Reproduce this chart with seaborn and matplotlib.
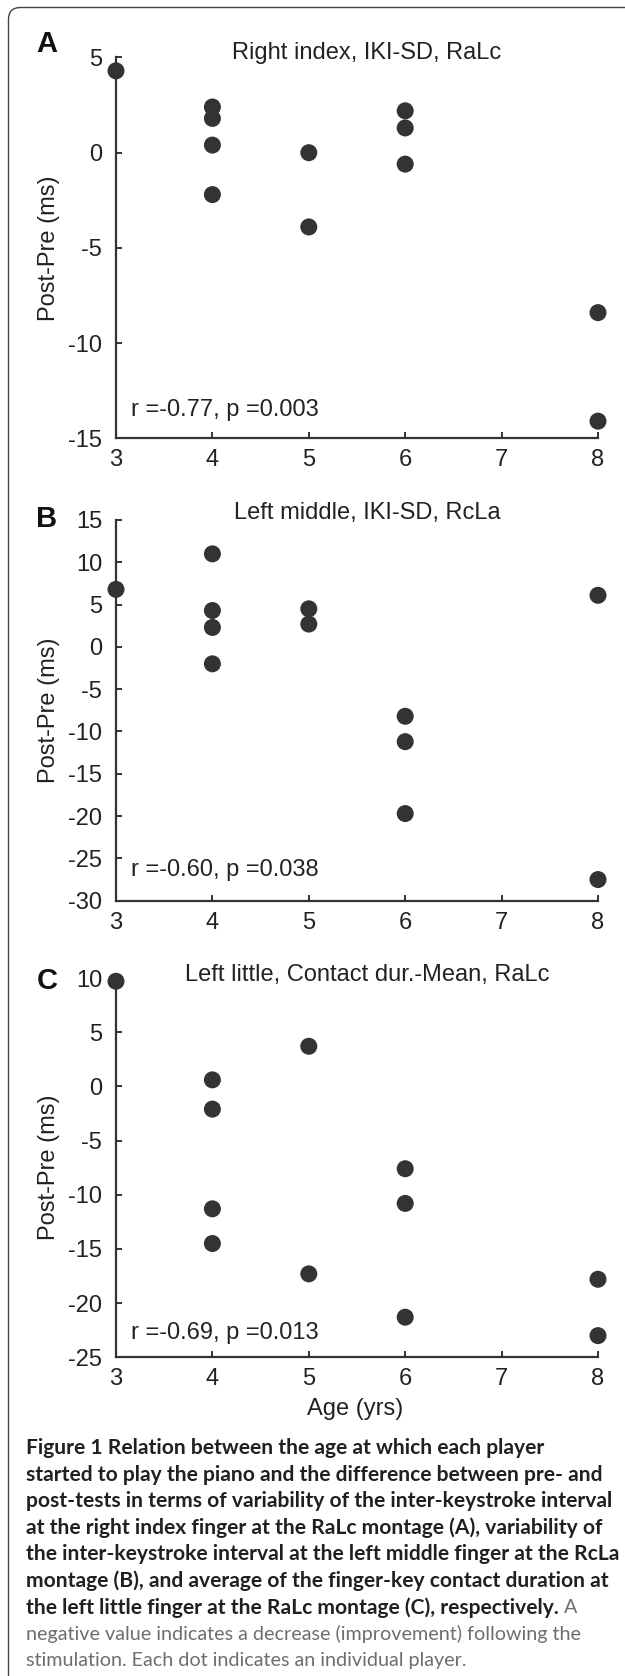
import matplotlib
matplotlib.use("Agg")
import numpy as np
import pandas as pd
import seaborn as sns
import matplotlib.pyplot as plt
from matplotlib.patches import FancyBboxPatch

sns.set_style("ticks")
plt.rcParams['font.family'] = ['Liberation Sans', 'DejaVu Sans']
plt.rcParams['axes.unicode_minus'] = False

# ---- data (age started piano vs post-pre difference, ms)
age_a = [3, 4, 4, 4, 4, 5, 5, 6, 6, 6, 8, 8]
diff_a = [4.3, 2.4, 1.8, 0.4, -2.2, 0.0, -3.9, 2.2, 1.3, -0.6, -8.4, -14.1]

age_b = [3, 4, 4, 4, 4, 5, 5, 6, 6, 6, 8, 8]
diff_b = [6.8, 11.0, 4.3, 2.3, -2.0, 4.5, 2.7, -8.2, -11.2, -19.7, 6.1, -27.5]

age_c = [3, 4, 4, 4, 4, 5, 5, 6, 6, 6, 8, 8]
diff_c = [9.7, 0.6, -2.1, -11.3, -14.5, 3.7, -17.3, -7.6, -10.8, -21.3, -17.8, -23.0]

letters = ["A", "B", "C"]
titles = ["Right index, IKI-SD, RaLc",
          "Left middle, IKI-SD, RcLa",
          "Left little, Contact dur.-Mean, RaLc"]
stats = ["r =-0.77, p =0.003", "r =-0.60, p =0.038", "r =-0.69, p =0.013"]
ylims = [(-15, 5), (-30, 15), (-25, 10)]
xticks = [3, 4, 5, 6, 7, 8]

caption_bold = [
    "Figure 1 Relation between the age at which each player",
    "started to play the piano and the difference between pre- and",
    "post-tests in terms of variability of the inter-keystroke interval",
    "at the right index finger at the RaLc montage (A), variability of",
    "the inter-keystroke interval at the left middle finger at the RcLa",
    "montage (B), and average of the finger-key contact duration at",
    "the left little finger at the RaLc montage (C), respectively.",
]
caption_tail = "A"
caption_plain = [
    "negative value indicates a decrease (improvement) following the",
    "stimulation. Each dot indicates an individual player.",
]

W, H = 625, 1676
fig = plt.figure(figsize=(W / 100, H / 100), dpi=100)
fig.patch.set_facecolor("white")

dark = "#333333"
panel_px = [(57.5, 438.3), (520, 900.7), (978, 1357.3)]
title_y = [52.7, 513.3, 975]
stat_y = [410, 870, 1333]
data = [(age_a, diff_a), (age_b, diff_b), (age_c, diff_c)]

def fx(px):
    return px / W

def fy(px):
    return 1 - px / H

for i in range(3):
    top, bot = panel_px[i]
    ax = fig.add_axes([fx(116), fy(bot), (598 - 116) / W, (bot - top) / H])
    df = pd.DataFrame({"age": data[i][0], "diff": data[i][1]})
    sns.scatterplot(data=df, x="age", y="diff", ax=ax, s=150, color=dark,
                    edgecolor="none", linewidth=0, clip_on=False, zorder=3)
    lo, hi = ylims[i]
    ax.set_xlim(3, 8)
    ax.set_ylim(lo, hi)
    ax.set_xticks(xticks)
    ax.set_yticks(np.arange(lo, hi + 1, 5))
    ax.set_xlabel("")
    ax.set_ylabel("Post-Pre (ms)", fontsize=17, color="#222222")
    ax.yaxis.set_label_coords((60 - 116) / 482, 0.5)
    sns.despine(ax=ax)
    for sp in ["left", "bottom"]:
        ax.spines[sp].set_linewidth(1.6)
        ax.spines[sp].set_color(dark)
    ax.tick_params(direction="in", length=4, width=1.4, color=dark,
                   labelsize=17, labelcolor="#222222")
    ax.tick_params(axis="y", pad=10)
    ax.tick_params(axis="x", pad=8)
    ax.text(0.031, (bot - stat_y[i]) / (bot - top), stats[i],
            transform=ax.transAxes, fontsize=17, color="#222222",
            ha="left", va="center")
    fig.text(fx(367), fy(title_y[i]), titles[i], fontsize=17,
             color="#222222", ha="center", va="center")
    fig.text(fx(47), fy(title_y[i] - 9 if i == 0 else title_y[i] + 6),
             letters[i], fontsize=21, fontweight="bold", color="#111111",
             ha="center", va="center")

fig.text(fx(355), fy(1409), "Age (yrs)", fontsize=17, color="#222222",
         ha="center", va="center")

# ---- caption, sized to the widths in the original
fig.canvas.draw()
rend = fig.canvas.get_renderer()
cap_font = ["Lato", "DejaVu Sans"]
probe = fig.text(0, 0, caption_bold[1], fontsize=10, fontweight="bold", family=cap_font)
bold_size = 10 * 578 / probe.get_window_extent(rend).width
probe.remove()
probe = fig.text(0, 0, caption_plain[0], fontsize=10, family=cap_font)
plain_size = 10 * 555 / probe.get_window_extent(rend).width
probe.remove()

y0, step = 1448, 26.6
bold_col, plain_col = "#231f20", "#6d6e71"
for k, line in enumerate(caption_bold):
    t = fig.text(fx(26), fy(y0 + k * step), line, fontsize=bold_size,
                 fontweight="bold", family=cap_font, color=bold_col,
                 ha="left", va="center")
last = t.get_window_extent(rend)
fig.text(fx(last.x1 + plain_size * 0.36), fy(y0 + 6 * step), caption_tail,
         fontsize=plain_size, family=cap_font, color=plain_col,
         ha="left", va="center")
for k, line in enumerate(caption_plain):
    fig.text(fx(26), fy(y0 + (7 + k) * step), line, fontsize=plain_size,
             family=cap_font, color=plain_col, ha="left", va="center")

# ---- frame: only top and left edges visible, rounded corner
frame = FancyBboxPatch((0.085, -0.5), 10, 16.685 + 0.5,
                       boxstyle="round,pad=0,rounding_size=0.12",
                       transform=fig.dpi_scale_trans, fill=False,
                       edgecolor="#444444", linewidth=1.0)
fig.add_artist(frame)

fig.savefig("out.png", dpi=100)
